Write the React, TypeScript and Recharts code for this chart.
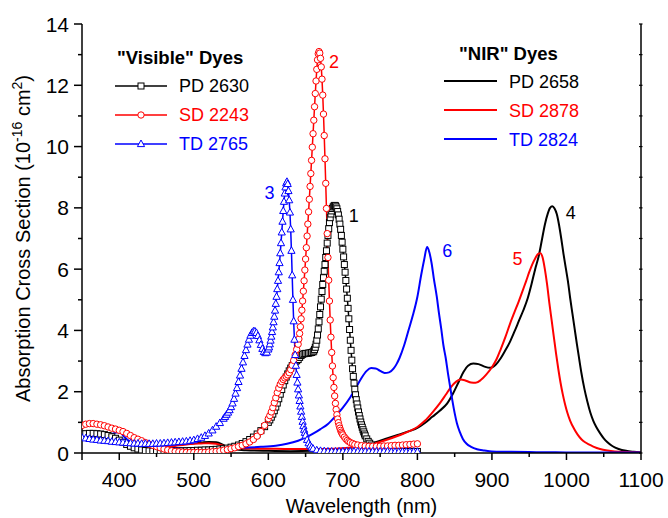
import { Line, LineChart, ReferenceDot, XAxis, YAxis } from 'recharts'

// wavelength (nm), absorption cross section (1e-16 cm^2)
const pd2630: number[][] = [
  [350, 0.62], [355, 0.63], [360, 0.64], [365, 0.64], [370, 0.63], [375, 0.62], [380, 0.6], [385, 0.57], [390, 0.53],
  [395, 0.48], [400, 0.42], [405, 0.35], [410, 0.28], [415, 0.22], [420, 0.17], [425, 0.13], [430, 0.1], [435, 0.08],
  [440, 0.07], [445, 0.06], [450, 0.06], [455, 0.06], [460, 0.06], [465, 0.06], [470, 0.06], [475, 0.06], [480, 0.06],
  [485, 0.07], [490, 0.07], [495, 0.08], [500, 0.08], [505, 0.09], [510, 0.09], [515, 0.1], [520, 0.1], [525, 0.11],
  [530, 0.12], [535, 0.13], [540, 0.14], [545, 0.16], [550, 0.19], [555, 0.22], [560, 0.26], [565, 0.31], [570, 0.37],
  [575, 0.44], [580, 0.52], [585, 0.62], [590, 0.73], [595, 0.86], [600, 1.0], [602, 1.08], [604, 1.17], [606, 1.27],
  [608, 1.38], [610, 1.5], [612, 1.63], [614, 1.77], [616, 1.92], [618, 2.07], [620, 2.22], [622, 2.36], [624, 2.48],
  [626, 2.58], [628, 2.68], [630, 2.77], [632, 2.85], [634, 2.92], [636, 2.97], [638, 3.01], [640, 3.05], [642, 3.12],
  [644, 3.18], [646, 3.22], [648, 3.24], [650, 3.25], [652, 3.25], [654, 3.26], [656, 3.27], [658, 3.28], [660, 3.3],
  [661, 3.33], [662, 3.38], [663, 3.45], [664, 3.55], [665, 3.68], [666, 3.85], [667, 4.05], [668, 4.28], [669, 4.52],
  [670, 4.77], [671, 5.02], [672, 5.27], [673, 5.5], [674, 5.72], [675, 5.93], [676, 6.15], [677, 6.38], [678, 6.6],
  [679, 6.85], [680, 7.1], [681, 7.32], [682, 7.52], [683, 7.68], [684, 7.8], [685, 7.9], [686, 7.98], [687, 8.03],
  [688, 8.06], [689, 8.08], [690, 8.07], [691, 8.03], [692, 7.97], [693, 7.88], [694, 7.77], [695, 7.63], [696, 7.47],
  [697, 7.3], [698, 7.1], [699, 6.88], [700, 6.65], [701, 6.4], [702, 6.15], [703, 5.9], [704, 5.63], [705, 5.35],
  [706, 5.05], [707, 4.72], [708, 4.38], [709, 4.03], [710, 3.68], [711, 3.35], [712, 3.03], [713, 2.75], [714, 2.5],
  [715, 2.28], [716, 2.08], [717, 1.9], [718, 1.74], [719, 1.6], [720, 1.47], [721, 1.34], [722, 1.22], [723, 1.11],
  [724, 1.01], [725, 0.92], [726, 0.84], [727, 0.76], [728, 0.69], [729, 0.62], [730, 0.56], [732, 0.46], [734, 0.38],
  [736, 0.32], [738, 0.26], [740, 0.21], [743, 0.16], [746, 0.12], [750, 0.09], [755, 0.07], [760, 0.06], [765, 0.05],
  [770, 0.05], [775, 0.05], [780, 0.05], [785, 0.05], [790, 0.05], [795, 0.05], [800, 0.05],
]

const sd2243: number[][] = [
  [350, 0.9], [355, 0.94], [360, 0.96], [365, 0.96], [370, 0.94], [375, 0.92], [380, 0.89], [385, 0.85], [390, 0.81],
  [395, 0.78], [400, 0.74], [405, 0.7], [410, 0.64], [415, 0.57], [420, 0.5], [425, 0.45], [430, 0.4], [435, 0.34],
  [440, 0.29], [445, 0.25], [450, 0.21], [455, 0.17], [460, 0.13], [465, 0.1], [470, 0.07], [475, 0.05], [480, 0.04],
  [485, 0.03], [490, 0.02], [495, 0.02], [500, 0.02], [505, 0.02], [510, 0.02], [515, 0.02], [520, 0.03], [525, 0.04],
  [530, 0.05], [535, 0.07], [540, 0.09], [545, 0.11], [550, 0.14], [555, 0.17], [560, 0.21], [565, 0.25], [570, 0.3],
  [575, 0.36], [580, 0.44], [585, 0.55], [590, 0.7], [595, 0.9], [600, 1.12], [602, 1.22], [604, 1.34], [606, 1.48],
  [608, 1.64], [610, 1.8], [612, 1.97], [614, 2.12], [616, 2.24], [618, 2.33], [620, 2.4], [622, 2.45], [624, 2.5],
  [626, 2.55], [628, 2.62], [630, 2.72], [632, 2.86], [634, 3.02], [636, 3.2], [638, 3.38], [640, 3.55], [641, 3.72],
  [642, 3.9], [643, 4.12], [644, 4.38], [645, 4.66], [646, 4.96], [647, 5.28], [648, 5.62], [649, 5.97], [650, 6.33],
  [651, 6.7], [652, 7.08], [653, 7.47], [654, 7.87], [655, 8.28], [656, 8.7], [657, 9.12], [658, 9.55], [659, 9.98],
  [660, 10.42], [661, 10.86], [662, 11.3], [663, 11.73], [664, 12.14], [665, 12.52], [666, 12.83], [667, 13.03],
  [668, 13.1], [669, 13.05], [670, 12.88], [671, 12.6], [672, 12.2], [673, 11.68], [674, 11.06], [675, 10.36],
  [676, 9.6], [677, 8.8], [678, 7.98], [679, 7.16], [680, 6.38], [681, 5.64], [682, 4.96], [683, 4.34], [684, 3.78],
  [685, 3.28], [686, 2.84], [687, 2.46], [688, 2.14], [689, 1.86], [690, 1.62], [691, 1.42], [692, 1.25], [693, 1.11],
  [694, 0.99], [695, 0.89], [696, 0.81], [697, 0.74], [698, 0.68], [699, 0.63], [700, 0.59], [702, 0.52], [704, 0.46],
  [706, 0.41], [708, 0.37], [710, 0.34], [713, 0.31], [716, 0.28], [720, 0.26], [725, 0.24], [730, 0.23], [735, 0.22],
  [740, 0.22], [745, 0.22], [750, 0.22], [755, 0.23], [760, 0.23], [765, 0.24], [770, 0.25], [775, 0.25], [780, 0.26],
  [785, 0.27], [790, 0.28], [795, 0.29], [800, 0.3],
]

const td2765: number[][] = [
  [350, 0.5], [355, 0.48], [360, 0.46], [365, 0.44], [370, 0.43], [375, 0.41], [380, 0.4], [385, 0.39], [390, 0.37],
  [395, 0.36], [400, 0.35], [405, 0.34], [410, 0.33], [415, 0.32], [420, 0.31], [425, 0.31], [430, 0.3], [435, 0.3],
  [440, 0.3], [445, 0.3], [450, 0.31], [455, 0.31], [460, 0.32], [465, 0.33], [470, 0.34], [475, 0.35], [480, 0.36],
  [485, 0.37], [490, 0.38], [495, 0.4], [500, 0.42], [505, 0.46], [510, 0.5], [515, 0.56], [520, 0.64], [525, 0.74],
  [530, 0.86], [535, 0.98], [540, 1.12], [542, 1.18], [544, 1.25], [546, 1.32], [548, 1.4], [550, 1.5], [552, 1.62],
  [554, 1.77], [556, 1.94], [558, 2.12], [560, 2.32], [562, 2.53], [564, 2.75], [566, 2.96], [568, 3.17], [570, 3.36],
  [572, 3.54], [574, 3.7], [576, 3.83], [578, 3.92], [580, 3.97], [582, 3.97], [584, 3.92], [586, 3.82], [588, 3.68],
  [590, 3.53], [592, 3.4], [594, 3.3], [596, 3.26], [598, 3.28], [600, 3.38], [601, 3.45], [602, 3.55], [603, 3.67],
  [604, 3.8], [605, 3.95], [606, 4.1], [607, 4.27], [608, 4.45], [609, 4.65], [610, 4.87], [611, 5.1], [612, 5.35],
  [613, 5.62], [614, 5.9], [615, 6.2], [616, 6.52], [617, 6.85], [618, 7.2], [619, 7.55], [620, 7.9], [621, 8.2],
  [622, 8.47], [623, 8.67], [624, 8.8], [625, 8.85], [626, 8.78], [627, 8.55], [628, 8.25], [629, 7.85], [630, 7.3],
  [631, 6.6], [632, 5.8], [633, 5.0], [634, 4.3], [635, 3.7], [636, 3.2], [637, 2.85], [638, 2.55], [639, 2.3],
  [640, 2.08], [641, 1.88], [642, 1.7], [643, 1.52], [644, 1.35], [645, 1.18], [646, 1.02], [647, 0.88], [648, 0.76],
  [649, 0.66], [650, 0.57], [652, 0.43], [654, 0.32], [656, 0.24], [658, 0.18], [660, 0.14], [665, 0.09], [670, 0.07],
  [675, 0.06], [680, 0.05], [685, 0.05], [690, 0.05], [695, 0.05], [700, 0.05], [705, 0.05], [710, 0.05], [715, 0.05],
  [720, 0.05], [725, 0.05], [730, 0.05], [735, 0.05], [740, 0.05], [745, 0.05], [750, 0.05], [755, 0.05], [760, 0.05],
  [765, 0.04], [770, 0.04], [775, 0.04], [780, 0.04], [785, 0.04], [790, 0.04], [795, 0.04], [800, 0.04],
]

const pd2658: number[][] = [
  [350, 0.6], [360, 0.6], [370, 0.58], [380, 0.55], [390, 0.5], [400, 0.42], [410, 0.32], [420, 0.23], [430, 0.17],
  [440, 0.15], [450, 0.16], [460, 0.19], [470, 0.23], [480, 0.27], [490, 0.3], [500, 0.32], [510, 0.34], [520, 0.36],
  [530, 0.35], [538, 0.28], [545, 0.18], [555, 0.12], [570, 0.09], [600, 0.07], [630, 0.06], [660, 0.07], [680, 0.09],
  [700, 0.13], [715, 0.19], [730, 0.27], [745, 0.36], [760, 0.48], [775, 0.6], [790, 0.72], [800, 0.82], [810, 0.98],
  [820, 1.18], [830, 1.38], [840, 1.62], [848, 1.95], [855, 2.3], [862, 2.65], [868, 2.85], [875, 2.92], [882, 2.9],
  [890, 2.82], [898, 2.78], [905, 2.88], [912, 3.1], [918, 3.35], [924, 3.62], [930, 3.95], [936, 4.3], [942, 4.65],
  [948, 5.05], [953, 5.5], [958, 6.0], [963, 6.45], [967, 6.95], [971, 7.45], [975, 7.82], [978, 8.0], [981, 8.05],
  [984, 7.98], [987, 7.8], [990, 7.45], [993, 7.0], [996, 6.5], [999, 6.05], [1002, 5.6], [1005, 5.05], [1008, 4.55],
  [1011, 4.05], [1014, 3.55], [1017, 3.08], [1020, 2.62], [1024, 2.1], [1028, 1.68], [1032, 1.32], [1036, 1.05],
  [1040, 0.85], [1045, 0.65], [1050, 0.48], [1055, 0.35], [1062, 0.22], [1070, 0.13], [1080, 0.07], [1090, 0.04],
  [1100, 0.02],
]

const sd2878: number[][] = [
  [350, 0.55], [360, 0.56], [370, 0.55], [380, 0.52], [390, 0.48], [400, 0.4], [410, 0.3], [420, 0.21], [430, 0.15],
  [440, 0.13], [450, 0.14], [460, 0.17], [470, 0.21], [480, 0.25], [490, 0.28], [500, 0.3], [510, 0.31], [520, 0.32],
  [530, 0.3], [538, 0.25], [545, 0.2], [555, 0.17], [570, 0.15], [600, 0.14], [630, 0.13], [660, 0.13], [690, 0.14],
  [710, 0.18], [730, 0.25], [745, 0.33], [760, 0.44], [775, 0.57], [790, 0.72], [800, 0.85], [810, 1.05], [820, 1.32],
  [830, 1.62], [838, 1.9], [845, 2.15], [852, 2.33], [858, 2.4], [865, 2.36], [872, 2.3], [878, 2.29], [885, 2.38],
  [892, 2.55], [900, 2.8], [906, 3.05], [912, 3.4], [918, 3.78], [924, 4.2], [930, 4.58], [936, 4.95], [942, 5.35],
  [946, 5.62], [950, 5.9], [954, 6.15], [958, 6.35], [962, 6.5], [965, 6.52], [968, 6.38], [971, 6.0], [974, 5.5],
  [977, 4.9], [980, 4.35], [983, 3.8], [986, 3.25], [989, 2.75], [992, 2.3], [995, 1.92], [998, 1.6], [1001, 1.33],
  [1005, 1.05], [1010, 0.8], [1015, 0.6], [1020, 0.45], [1025, 0.35], [1030, 0.28], [1036, 0.21], [1045, 0.13],
  [1055, 0.08], [1065, 0.05], [1080, 0.03], [1100, 0.02],
]

const td2824: number[][] = [
  [350, 0.45], [360, 0.5], [370, 0.53], [380, 0.57], [390, 0.62], [398, 0.68], [402, 0.66], [406, 0.55], [410, 0.45],
  [415, 0.36], [420, 0.3], [430, 0.24], [440, 0.2], [450, 0.18], [470, 0.16], [500, 0.15], [530, 0.16], [560, 0.17],
  [590, 0.2], [610, 0.24], [625, 0.3], [640, 0.4], [650, 0.5], [660, 0.63], [670, 0.78], [680, 0.95], [690, 1.2],
  [700, 1.48], [710, 1.82], [718, 2.15], [725, 2.45], [732, 2.68], [738, 2.77], [744, 2.76], [750, 2.68], [756, 2.61],
  [762, 2.63], [768, 2.75], [772, 2.9], [776, 3.1], [782, 3.5], [788, 4.0], [794, 4.5], [800, 5.1], [805, 5.8],
  [809, 6.3], [813, 6.72], [816, 6.55], [819, 6.2], [822, 5.7], [826, 5.1], [829, 4.55], [832, 4.05], [835, 3.5],
  [838, 3.1], [841, 2.6], [844, 2.15], [847, 1.7], [850, 1.3], [853, 0.97], [857, 0.68], [861, 0.46], [866, 0.3],
  [872, 0.2], [880, 0.12], [890, 0.08], [900, 0.05], [920, 0.04], [950, 0.03], [1000, 0.02], [1100, 0.02],
]

const xTicks = [350, 400, 450, 500, 550, 600, 650, 700, 750, 800, 850, 900, 950, 1000, 1050, 1100]
const xLabels = [400, 500, 600, 700, 800, 900, 1000, 1100]
const yTicks = [0, 1, 2, 3, 4, 5, 6, 7, 8, 9, 10, 11, 12, 13, 14]
const yLabels = [0, 2, 4, 6, 8, 10, 12, 14]

// peak numbers, placed in data units
const peakText = ['1', '2', '3', '4', '5', '6']
const peakNm = [714.5, 688, 601.6, 1005.8, 934.3, 840]
const peakAbs = [7.76, 12.76, 8.5, 7.83, 6.34, 6.6]

const BLACK = '#000000'
const RED = '#ff0000'
const BLUE = '#0000ff'
const peakColor = [BLACK, RED, BLUE, BLACK, RED, BLUE]

const rows = (pts: number[][]) => pts.map(([x, y]) => ({ x, y }))

const square = (color: string) => (p: any) =>
  <rect key={p.index} x={p.cx - 3} y={p.cy - 3} width={6} height={6} fill="#fff" stroke={color} strokeWidth={1} />
const circle = (color: string) => (p: any) =>
  <circle key={p.index} cx={p.cx} cy={p.cy} r={3.2} fill="#fff" stroke={color} strokeWidth={1} />
const triangle = (color: string) => (p: any) => (
  <path key={p.index} d={`M${p.cx},${p.cy - 4}L${p.cx + 3.6},${p.cy + 2.6}L${p.cx - 3.6},${p.cy + 2.6}Z`}
    fill="#fff" stroke={color} strokeWidth={1} />
)

const axisLine = { stroke: '#000', strokeWidth: 1.5 }

const BottomTick = (p: any) => {
  const v = p.payload.value
  const major = xLabels.includes(v)
  return (
    <g>
      <line x1={p.x} x2={p.x} y1={p.y} y2={p.y + (major || v === 350 ? 7 : 4)} stroke="#000" strokeWidth={1.5} />
      {major && <text x={p.x} y={p.y + 34} textAnchor="middle" fontSize={21} fill="#000">{v}</text>}
    </g>
  )
}

const LeftTick = (p: any) => {
  const v = p.payload.value
  const major = yLabels.includes(v)
  return (
    <g>
      <line x1={p.x - (major ? 8 : 4)} x2={p.x} y1={p.y} y2={p.y} stroke="#000" strokeWidth={1.5} />
      {major && <text x={p.x - 13} y={p.y + 7.5} textAnchor="end" fontSize={21} fill="#000">{v}</text>}
    </g>
  )
}

const TopTick = (p: any) => <line x1={p.x} x2={p.x} y1={p.y - 1.5} y2={p.y + 2} stroke="#000" strokeWidth={1.2} />
const RightTick = (p: any) => <line x1={p.x - 2} x2={p.x + 1.5} y1={p.y} y2={p.y} stroke="#000" strokeWidth={1.2} />

const XTitle = (p: any) => {
  const vb = p.viewBox
  return (
    <text x={vb.x + vb.width / 2} y={vb.y + 59.5} textAnchor="middle" fontSize={20} fill="#000">
      Wavelength (nm)
    </text>
  )
}

const YTitle = (p: any) => {
  const vb = p.viewBox
  const cx = vb.x + 29.5
  const cy = vb.y + vb.height / 2
  return (
    <text x={cx} y={cy} transform={`rotate(-90, ${cx}, ${cy})`} textAnchor="middle" fontSize={20} fill="#000">
      Absorption Cross Section (10
      <tspan dy={-8} fontSize={14}>-16</tspan>
      <tspan dy={8}> cm</tspan>
      <tspan dy={-8} fontSize={14}>2</tspan>
      <tspan dy={8}>)</tspan>
    </text>
  )
}

function Legends() {
  const vis = [
    { name: 'PD 2630', color: BLACK, mark: 'square' },
    { name: 'SD 2243', color: RED, mark: 'circle' },
    { name: 'TD 2765', color: BLUE, mark: 'triangle' },
  ]
  const nir = [
    { name: 'PD 2658', color: BLACK },
    { name: 'SD 2878', color: RED },
    { name: 'TD 2824', color: BLUE },
  ]
  return (
    <svg width={668} height={518} style={{ position: 'absolute', left: 0, top: 0, pointerEvents: 'none' }}>
      <text x={117} y={63.5} fontSize={18.5} fontWeight="bold" fill="#000">"Visible" Dyes</text>
      {vis.map((d, i) => {
        const y = 86 + i * 29
        return (
          <g key={d.name}>
            <line x1={115} x2={167} y1={y} y2={y} stroke={d.color} strokeWidth={1.5} />
            {d.mark === 'square' && square(d.color)({ cx: 141, cy: y, index: 0 })}
            {d.mark === 'circle' && circle(d.color)({ cx: 141, cy: y, index: 0 })}
            {d.mark === 'triangle' && triangle(d.color)({ cx: 141, cy: y, index: 0 })}
            <text x={179} y={y + 6} fontSize={18} fill={d.color}>{d.name}</text>
          </g>
        )
      })}
      <text x={459} y={59.5} fontSize={18.5} fontWeight="bold" fill="#000">"NIR" Dyes</text>
      {nir.map((d, i) => {
        const y = 81 + i * 29
        return (
          <g key={d.name}>
            <line x1={444} x2={497} y1={y} y2={y} stroke={d.color} strokeWidth={2} />
            <text x={509} y={y + 6.5} fontSize={18} fill={d.color}>{d.name}</text>
          </g>
        )
      })}
    </svg>
  )
}

export default function App() {
  return (
    <div style={{ position: 'absolute', left: 0, top: 0, width: 668, height: 518, background: '#fff',
      fontFamily: '"Liberation Sans", Arial, Helvetica, sans-serif' }}>
      <LineChart width={668} height={518} margin={{ top: 24, right: 26, bottom: 0, left: 0 }}>
        <XAxis type="number" dataKey="x" domain={[350, 1100]} ticks={xTicks} interval={0} allowDataOverflow
          height={65} tickSize={0} tickMargin={0} tickLine={false} axisLine={axisLine} tick={BottomTick}
          label={{ content: XTitle }} />
        <XAxis xAxisId="top" orientation="top" type="number" dataKey="x" domain={[350, 1100]} ticks={xTicks}
          interval={0} allowDataOverflow height={0} tickSize={0} tickMargin={0} tickLine={false} axisLine={axisLine}
          tick={TopTick} />
        <YAxis type="number" domain={[0, 14]} ticks={yTicks} interval={0} allowDataOverflow width={82} tickSize={0}
          tickMargin={0} tickLine={false} axisLine={axisLine} tick={LeftTick} label={{ content: YTitle }} />
        <YAxis yAxisId="right" orientation="right" type="number" domain={[0, 14]} ticks={yTicks} interval={0}
          allowDataOverflow width={1} tickSize={0} tickMargin={0} tickLine={false} axisLine={axisLine} tick={RightTick} />

        <Line data={rows(pd2658)} dataKey="y" type="monotone" stroke={BLACK} strokeWidth={2} dot={false}
          activeDot={false} isAnimationActive={false} />
        <Line data={rows(sd2878)} dataKey="y" type="monotone" stroke={RED} strokeWidth={2} dot={false}
          activeDot={false} isAnimationActive={false} />
        <Line data={rows(td2824)} dataKey="y" type="monotone" stroke={BLUE} strokeWidth={2} dot={false}
          activeDot={false} isAnimationActive={false} />
        <Line data={rows(pd2630)} dataKey="y" type="linear" stroke={BLACK} strokeWidth={1.5} dot={square(BLACK)}
          activeDot={false} isAnimationActive={false} />
        <Line data={rows(sd2243)} dataKey="y" type="linear" stroke={RED} strokeWidth={1.5} dot={circle(RED)}
          activeDot={false} isAnimationActive={false} />
        <Line data={rows(td2765)} dataKey="y" type="linear" stroke={BLUE} strokeWidth={1.5} dot={triangle(BLUE)}
          activeDot={false} isAnimationActive={false} />

        {peakText.map((t, i) => (
          <ReferenceDot key={t} x={peakNm[i]} y={peakAbs[i]} r={1} fill="none" stroke="none"
            label={{ value: t, position: 'center', fill: peakColor[i], fontSize: 18 }} />
        ))}
      </LineChart>
      <Legends />
    </div>
  )
}
